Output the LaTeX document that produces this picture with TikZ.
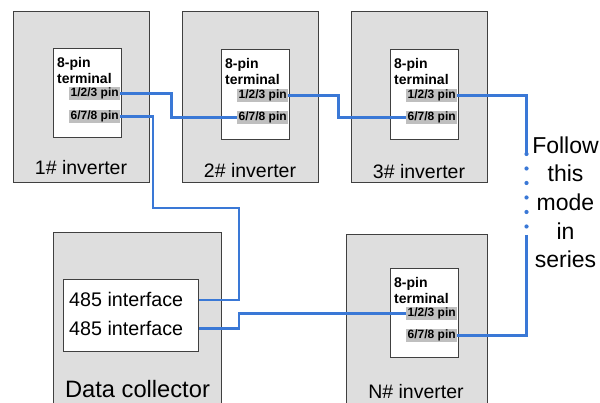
\documentclass[tikz,border=0pt]{standalone}
\usepackage{fontspec}
\setmainfont{Liberation Sans}
\usetikzlibrary{positioning}
\definecolor{boxgray}{HTML}{DEDEDE}
\definecolor{pingray}{HTML}{BFBFBF}
\definecolor{wireblue}{HTML}{3A78D6}
\definecolor{edgegray}{HTML}{404040}
\begin{document}
\begin{tikzpicture}[x=1pt,y=-1pt,
 inv/.style={draw=edgegray, fill=boxgray, line width=0.9pt, inner sep=0, anchor=north west},
 term/.style={draw=edgegray, fill=white, line width=0.9pt, inner sep=0, anchor=north west, minimum width=68pt},
 ttl/.style={inner sep=0, align=left, font=\bfseries\fontsize{14}{16.5}\selectfont},
 pin/.style={fill=pingray, inner xsep=1.5pt, inner ysep=0.5pt, minimum height=12.5pt, font=\bfseries\fontsize{12}{12}\selectfont},
 invname/.style={inner sep=0, anchor=base, font=\fontsize{19.5}{20}\selectfont},
 wire/.style={draw=wireblue, line width=2.5pt}]
\useasboundingbox (0,0) rectangle (600,403);
\clip (0,0) rectangle (600,403);
\node[inv, minimum width=136pt, minimum height=171pt] (inv1) at (13,11){};
\node[inv, minimum width=136pt, minimum height=171pt] (inv2) at (182,11){};
\node[inv, minimum width=136pt, minimum height=171pt] (inv3) at (351,11){};
\node[inv, minimum width=168pt, minimum height=190pt] (dc) at (53,232){};
\node[inv, minimum width=141pt, minimum height=190pt] (invn) at (346,234){};
\node[term, minimum height=89pt] (t1) at (53,48){};
\node[term, minimum height=90pt] (t2) at (221,49){};
\node[term, minimum height=90pt] (t3) at (390,49){};
\node[term, minimum height=89pt] (tn) at (390,268){};
\node[draw=edgegray, fill=white, line width=0.9pt, inner sep=0, anchor=north west, minimum width=135pt, minimum height=72pt] (dcin) at (63,279){};
\node[ttl, below right=9pt and 4pt of t1.north west] (l1) {8-pin\\terminal};
\node[ttl, below right=9pt and 4pt of t2.north west] (l2) {8-pin\\terminal};
\node[ttl, below right=9pt and 4pt of t3.north west] (l3) {8-pin\\terminal};
\node[ttl, below right=9pt and 4pt of tn.north west] (ln) {8-pin\\terminal};
\node[pin, below left=39pt and 1.5pt of t1.north east] (a123) {1/2/3 pin};
\node[pin, below left=62pt and 1.5pt of t1.north east] (a678) {6/7/8 pin};
\node[pin, below left=40pt and 1.5pt of t2.north east] (b123) {1/2/3 pin};
\node[pin, below left=62pt and 1.5pt of t2.north east] (b678) {6/7/8 pin};
\node[pin, below left=40pt and 1.5pt of t3.north east] (c123) {1/2/3 pin};
\node[pin, below left=62pt and 1.5pt of t3.north east] (c678) {6/7/8 pin};
\node[pin, below left=39pt and 1.5pt of tn.north east] (n123) {1/2/3 pin};
\node[pin, below left=61pt and 1.5pt of tn.north east] (n678) {6/7/8 pin};
\node[inner sep=0, anchor=base west, font=\fontsize{19.7}{20}\selectfont] (if1) at (69,307){485 interface};
\node[inner sep=0, anchor=base west, font=\fontsize{19.7}{20}\selectfont] (if2) at (69,335.5){485 interface};
\node[invname] (c1) at (81,175){1\# inverter};
\node[invname] (c2) at (250,178){2\# inverter};
\node[invname] (c3) at (419,179){3\# inverter};
\node[invname] (cn) at (416,399){N\# inverter};
\node[invname, font=\fontsize{23.7}{24}\selectfont] (cdc) at (137.5,398){Data collector};
\node[inner sep=0, anchor=north, align=center, font=\fontsize{23}{28.6}\selectfont] (note) at (565.5,136.5){Follow\\this\\mode\\in\\series};
\coordinate (j1) at (153,208);
\coordinate (j2) at (239,208);
\coordinate (dtop) at (526.5,154);
\coordinate (dbot) at (526.5,235);
\draw[wire] (a123.east) -- ++(51,0) |- (b678.west);
\draw[wire] (b123.east) -- ++(50,0) |- (c678.west);
\draw[wire] (c123.east) -| (dtop);
\draw[wire] (dbot) |- (n678.east);
\draw[wire] (a678.east) -| (j1) -- (j2) |- (if1 -| dcin.east);
\draw[wire] (if2 -| dcin.east) -- ++(40,0) |- (n123.west);
\foreach \y in {154,168.5,183,197.5,212,226.5}
  \fill[wireblue] (526.5,\y) circle (2.1pt);
\end{tikzpicture}
\end{document}
